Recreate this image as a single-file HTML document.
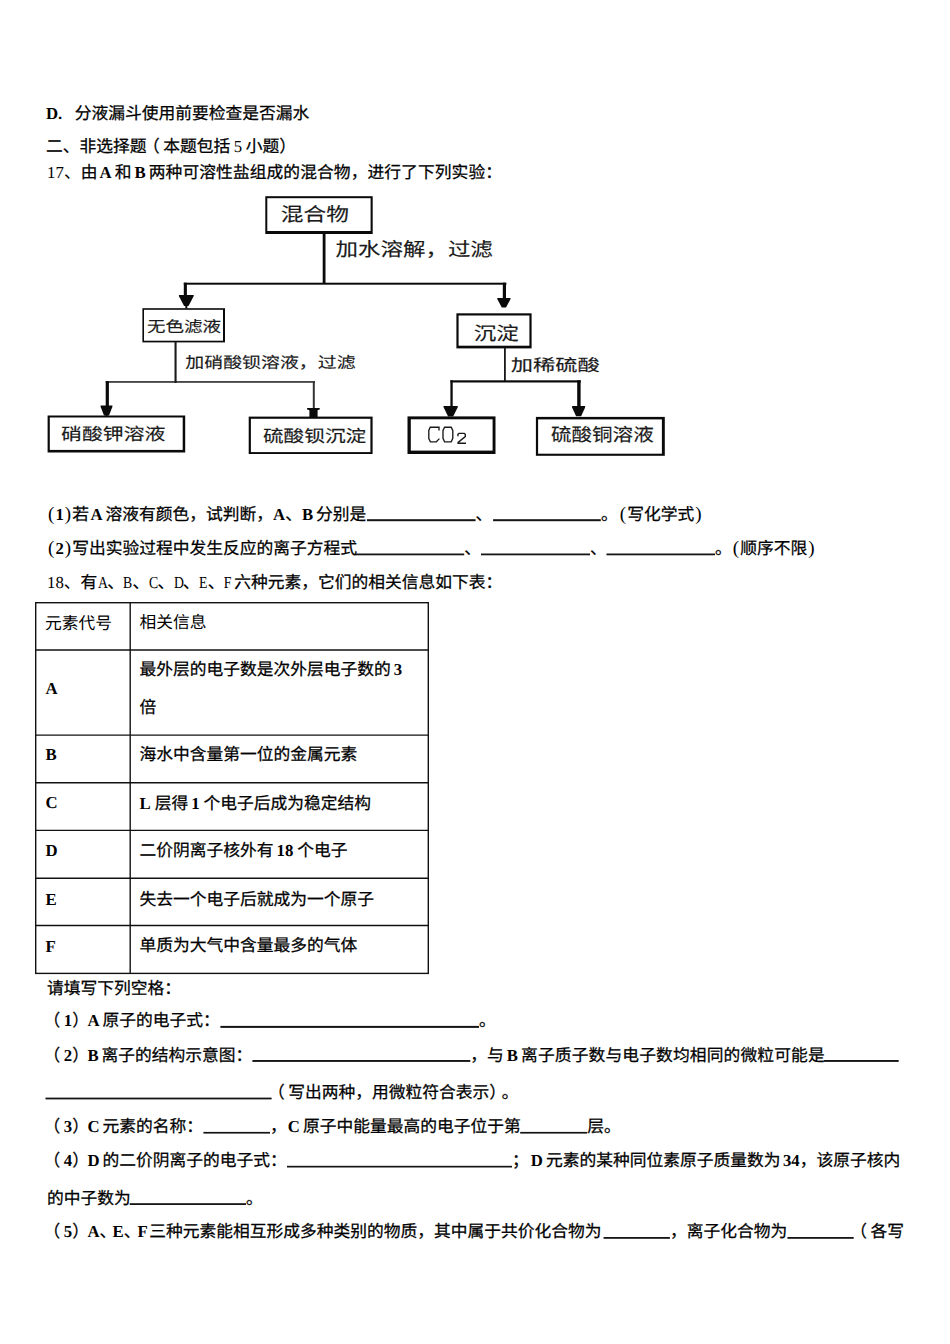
<!DOCTYPE html>
<html lang="zh-CN"><head><meta charset="utf-8">
<style>
html,body{margin:0;padding:0;background:#fff;}
body{width:950px;height:1344px;position:relative;overflow:hidden;font-family:"Liberation Serif",serif;color:#000;text-rendering:geometricPrecision;}
.t{position:absolute;white-space:nowrap;font-size:16.75px;line-height:16.75px;font-weight:normal;-webkit-text-stroke:0.25px #000;}
.r{-webkit-text-stroke:0;}
b{font-weight:bold;-webkit-text-stroke:0;}
.n{font-weight:normal;-webkit-text-stroke:0;}
.h{display:inline-block;width:8.375px;text-align:center;}
.pp{font-size:19px;line-height:16.75px;}
.hs{display:inline-block;width:8.375px;text-align:center;-webkit-text-stroke:0;}
.hs i{display:inline-block;font-style:normal;transform:scaleX(0.82);}
.lp{position:relative;left:-3.5px;}
.u{position:absolute;height:1.3px;background:#111;}
svg{position:absolute;left:0;top:0;}
.dg text{font-family:"Liberation Sans",sans-serif;fill:#1a1a1a;}
</style></head>
<body>
<div class="t" style="left:46px;top:105.6px;"><b>D</b><span style="display:inline-block;width:16.75px"><b>.</b></span>分液漏斗使用前要检查是否漏水</div>
<div class="t" style="left:46px;top:139.3px;">二、非选择题<span class="lp">（</span>本题包括<span class="n" style="margin:0 3.5px 0 3.5px">5</span>小题）</div>
<div class="t" style="left:47px;top:165px;letter-spacing:0.07px"><span class="r">17、</span>由<b style="margin:0 3px 0 2px">A</b>和<b style="margin:0 3px 0 3px">B</b>两种可溶性盐组成的混合物，进行了下列实验：</div>
<svg class="dg" width="950" height="480" viewBox="0 0 950 480">
<rect x="265.3" y="196.2" width="107.4" height="37.8" fill="#0a0a0a"/><rect x="267.3" y="198.2" width="103.3" height="32.8" fill="#fff"/>
<rect x="142.4" y="308.2" width="82.6" height="34.2" fill="#0a0a0a"/><rect x="144.0" y="309.8" width="79.0" height="30.9" fill="#fff"/>
<rect x="456.4" y="313.3" width="75.2" height="35.1" fill="#0a0a0a"/><rect x="458.6" y="315.5" width="70.8" height="30.2" fill="#fff"/>
<rect x="47.6" y="415.5" width="137.6" height="37.0" fill="#0a0a0a"/><rect x="49.8" y="417.5" width="132.9" height="32.4" fill="#fff"/>
<rect x="248.7" y="416.6" width="123.9" height="37.4" fill="#0a0a0a"/><rect x="250.9" y="418.8" width="119.5" height="33.3" fill="#fff"/>
<rect x="407.5" y="416.4" width="88.0" height="37.6" fill="#0a0a0a"/><rect x="410.8" y="419.3" width="81.8" height="31.3" fill="#fff"/>
<rect x="535.9" y="416.9" width="128.9" height="38.9" fill="#0a0a0a"/><rect x="538.1" y="419.4" width="123.8" height="34.3" fill="#fff"/>
<rect x="322.7" y="233" width="2.8" height="51.0" fill="#0a0a0a"/>
<rect x="183.8" y="282.7" width="322.6" height="2.0" fill="#0a0a0a"/>
<rect x="183.8" y="282.7" width="3.1" height="13.3" fill="#0a0a0a"/>
<polygon points="178.8,295 193.8,295 193.5,296.6 188.5,306 184.1,306 179.1,296.6" fill="#0a0a0a"/><rect x="185.3" y="305.5" width="2.0" height="3.0" fill="#0a0a0a"/>
<rect x="502.8" y="282.7" width="3.2" height="16.3" fill="#0a0a0a"/>
<polygon points="497.2,297.9 510.6,297.9 510.3,299.5 506.0,307.6 501.8,307.6 497.5,299.5" fill="#0a0a0a"/>
<rect x="174.5" y="342" width="2.1" height="41.0" fill="#1a1a1a"/>
<rect x="105.7" y="381.2" width="209.3" height="1.5" fill="#1a1a1a"/>
<rect x="105.7" y="381.2" width="3.2" height="24.8" fill="#0a0a0a"/>
<polygon points="100.5,405.6 112.5,405.6 112.2,407.2 109.0,415.4 104.0,415.4 100.8,407.2" fill="#0a0a0a"/><rect x="105.5" y="414.9" width="2.0" height="1.1" fill="#0a0a0a"/>
<rect x="312.8" y="381.2" width="2.0" height="27.3" fill="#333"/>
<polygon points="307.1,407.9 319.7,407.9 319.7,409.6 317.6,410.2 317.6,417.4 309.4,417.4 309.4,410.2 307.1,409.6" fill="#0a0a0a"/>
<rect x="504" y="348" width="1.8" height="33.0" fill="#1a1a1a"/>
<rect x="450.4" y="380.3" width="130.4" height="2.2" fill="#0a0a0a"/>
<rect x="450.4" y="380.3" width="2.3" height="26.7" fill="#0a0a0a"/>
<polygon points="443.4,406 457.9,406 457.6,407.6 453.1,416.4 448.1,416.4 443.7,407.6" fill="#0a0a0a"/>
<rect x="577.2" y="380.3" width="3.4" height="26.7" fill="#0a0a0a"/>
<polygon points="572.0,406.1 585.2,406.1 585.0,407.7 581.1,416.2 576.1,416.2 572.2,407.7" fill="#0a0a0a"/>
<text x="280.8" y="221.4" font-size="19.0" textLength="68.1" lengthAdjust="spacingAndGlyphs" stroke="#1a1a1a" stroke-width="0.15">混合物</text>
<text x="335.4" y="256.1" font-size="19.0" textLength="157.5" lengthAdjust="spacingAndGlyphs" stroke="#1a1a1a" stroke-width="0.15">加水溶解，过滤</text>
<text x="146.9" y="331.9" font-size="15.4" textLength="74.1" lengthAdjust="spacingAndGlyphs" stroke="#1a1a1a" stroke-width="0.15">无色滤液</text>
<text x="185.3" y="367.5" font-size="15.6" textLength="170.3" lengthAdjust="spacingAndGlyphs" stroke="#1a1a1a" stroke-width="0.15">加硝酸钡溶液，过滤</text>
<text x="473.8" y="339.6" font-size="18.7" textLength="45" lengthAdjust="spacingAndGlyphs" stroke="#1a1a1a" stroke-width="0.15">沉淀</text>
<text x="510.8" y="370.5" font-size="16.6" textLength="89" lengthAdjust="spacingAndGlyphs" stroke="#1a1a1a" stroke-width="0.15">加稀硫酸</text>
<text x="61.1" y="439.6" font-size="16.9" textLength="104.3" lengthAdjust="spacingAndGlyphs" stroke="#1a1a1a" stroke-width="0.15">硝酸钾溶液</text>
<text x="262.9" y="441.5" font-size="16.8" textLength="103.4" lengthAdjust="spacingAndGlyphs" stroke="#1a1a1a" stroke-width="0.15">硫酸钡沉淀</text>
<text x="551" y="441.2" font-size="18.0" textLength="102.7" lengthAdjust="spacingAndGlyphs" stroke="#1a1a1a" stroke-width="0.15">硫酸铜溶液</text>
<g fill="none" stroke="#1a1a1a" stroke-width="1.35"><path d="M439,430.6 L439,427.2 L430.2,427.2 L428.8,430.4 L428.8,438.5 L430.4,441.8 L436.3,441.8 L439.4,438.6"/><path d="M444.6,427.2 L451.2,427.2 L452.8,430.5 L452.8,438.4 L451.2,441.8 L444.6,441.8 L443,438.4 L443,430.5 Z"/><path d="M457.9,436.2 L457.9,434.4 L459,433.3 L464.2,433.3 L465.3,434.4 L465.3,436.6 L458.1,442.4 L458.1,443.2 L466,443.2"/></g>
</svg>
<div class="t" style="left:47px;top:506.5px;"><span class="h n pp">(</span><b>1</b><span class="h n pp">)</span>若<b style="margin:0 3px 0 1.5px">A</b>溶液有颜色，试判断，<b>A</b>、<b style="margin:0 3px 0 0px">B</b>分别是</div>
<div class="t" style="left:475.6px;top:506.5px;">、</div>
<div class="t" style="left:601px;top:506.5px;">。<span class="h n pp" style="margin-left:1px">(</span>写化学式<span class="h n pp">)</span></div>
<div class="t" style="left:47px;top:541px;"><span class="h n pp">(</span><b>2</b><span class="h n pp">)</span>写出实验过程中发生反应的离子方程式</div>
<div class="t" style="left:464.2px;top:541px;">、</div>
<div class="t" style="left:590px;top:541px;">、</div>
<div class="t" style="left:715px;top:541px;">。<span class="h n pp">(</span>顺序不限<span class="h n pp">)</span></div>
<div class="t" style="left:47px;top:575px;"><span class="r">18、</span>有<span class="hs"><i>A</i></span><span style="margin:0 -1.6px 0 1.6px">、</span><span class="hs"><i>B</i></span><span style="margin:0 -1.6px 0 1.6px">、</span><span class="hs"><i>C</i></span><span style="margin:0 -1.6px 0 1.6px">、</span><span class="hs"><i>D</i></span><span style="margin:0 -1.6px 0 1.6px">、</span><span class="hs"><i>E</i></span><span style="margin:0 -1.6px 0 1.6px">、</span><span class="hs"><i>F</i></span><span style="margin-left:3px"></span>六种元素，它们的相关信息如下表：</div>
<svg width="950" height="1000" viewBox="0 0 950 1000"><g stroke="#111" stroke-width="1.4" fill="none">
<rect x="35.7" y="602.7" width="392.6" height="370.7"/>
<line x1="130.2" y1="602.7" x2="130.2" y2="973.4"/>
<line x1="35.7" y1="650" x2="428.3" y2="650"/>
<line x1="35.7" y1="735.1" x2="428.3" y2="735.1"/>
<line x1="35.7" y1="782.8" x2="428.3" y2="782.8"/>
<line x1="35.7" y1="830.4" x2="428.3" y2="830.4"/>
<line x1="35.7" y1="878.3" x2="428.3" y2="878.3"/>
<line x1="35.7" y1="925.5" x2="428.3" y2="925.5"/>
</g></svg>
<div class="t r" style="left:45px;top:615.7px;">元素代号</div>
<div class="t r" style="left:139.5px;top:615.3px;">相关信息</div>
<div class="t" style="left:45.5px;top:681px;"><b>A</b></div>
<div class="t" style="left:139.5px;top:661.9px;">最外层的电子数是次外层电子数的<b style="margin:0 0px 0 3px">3</b></div>
<div class="t" style="left:139.5px;top:699.8px;">倍</div>
<div class="t" style="left:45.5px;top:747px;"><b>B</b></div>
<div class="t" style="left:139.5px;top:747.4px;">海水中含量第一位的金属元素</div>
<div class="t" style="left:45.5px;top:795px;"><b>C</b></div>
<div class="t" style="left:139.5px;top:795.9px;"><b style="margin:0 4px 0 0px">L</b>层得<b style="margin:0 4px 0 3px">1</b>个电子后成为稳定结构</div>
<div class="t" style="left:45.5px;top:842.5px;"><b>D</b></div>
<div class="t" style="left:139.5px;top:842.7px;">二价阴离子核外有<b style="margin:0 4px 0 3px">18</b>个电子</div>
<div class="t" style="left:45.5px;top:892px;"><b>E</b></div>
<div class="t" style="left:139.5px;top:891.8px;">失去一个电子后就成为一个原子</div>
<div class="t" style="left:45.5px;top:939px;"><b>F</b></div>
<div class="t" style="left:139.5px;top:938.3px;">单质为大气中含量最多的气体</div>
<div class="t" style="left:47px;top:981px;">请填写下列空格：</div>
<div class="t" style="left:47px;top:1012.6px;"><span class="lp">（</span><b>1</b><span style="margin-right:-1.5px">）</span><b style="margin:0 3px 0 0px">A</b>原子的电子式：</div>
<div class="t" style="left:479px;top:1012.6px;">。</div>
<div class="t" style="left:47px;top:1048px;"><span class="lp">（</span><b>2</b><span style="margin-right:-1.5px">）</span><b style="margin:0 3px 0 0px">B</b>离子的结构示意图：</div>
<div class="t" style="left:470.3px;top:1048px;">，与<b style="margin:0 3px 0 3px">B</b><span style="letter-spacing:0.13px">离子质子数与电子数均相同的微粒可能是</span></div>
<div class="t" style="left:271.6px;top:1085px;"><span class="lp">（</span>写出两种，用微粒符合表示）<span style="margin-left:4px">。</span></div>
<div class="t" style="left:47px;top:1118.8px;"><span class="lp">（</span><b>3</b><span style="margin-right:-1.5px">）</span><b style="margin:0 3px 0 0px">C</b>元素的名称：</div>
<div class="t" style="left:270px;top:1118.8px;">，<b style="margin:0 3px 0 1px">C</b>原子中能量最高的电子位于第</div>
<div class="t" style="left:587.2px;top:1118.8px;">层。</div>
<div class="t" style="left:47px;top:1153px;"><span class="lp">（</span><b>4</b><span style="margin-right:-1.5px">）</span><b style="margin:0 3px 0 0px">D</b>的二价阴离子的电子式：</div>
<div class="t" style="left:512px;top:1153px;">；<b style="margin:0 3px 0 2px">D</b>元素的某种同位素原子质量数为<b style="margin:0 0px 0 2.5px">34</b>，该原子核内</div>
<div class="t" style="left:47px;top:1191px;">的中子数为</div>
<div class="t" style="left:246px;top:1191px;">。</div>
<div class="t" style="left:47px;top:1223.5px;"><span class="lp">（</span><b>5</b><span style="margin-right:-1.5px">）</span><b>A</b><span style="margin-right:-3.85px">、</span><b>E</b><span style="margin-right:-2.85px">、</span><b style="margin:0 1.5px 0 0px">F</b>三种元素能相互形成多种类别的物质，其中属于共价化合物为</div>
<div class="t" style="left:669.9px;top:1223.5px;">，离子化合物为</div>
<div class="t" style="left:853.7px;top:1223.5px;"><span class="lp">（</span>各写</div>
<svg width="950" height="1344" viewBox="0 0 950 1344"><g fill="#151515"><rect x="367" y="519.2" width="108.6" height="2"/><rect x="493.1" y="519.2" width="107.7" height="2"/><rect x="355" y="553.5" width="109.2" height="1.8"/><rect x="481" y="553.5" width="109.0" height="1.8"/><rect x="606.5" y="553.5" width="108.5" height="1.8"/><rect x="220.4" y="1025.9" width="258.6" height="2"/><rect x="252.4" y="1060" width="217.9" height="1.9"/><rect x="823.9" y="1060" width="74.8" height="1.9"/><rect x="45.5" y="1097.6" width="226.1" height="1.8"/><rect x="203.4" y="1131.9" width="66.6" height="1.7"/><rect x="520.2" y="1131.9" width="67.0" height="1.7"/><rect x="287" y="1165.8" width="225.0" height="1.7"/><rect x="129.7" y="1203.2" width="116.3" height="1.8"/><rect x="603.6" y="1237" width="66.3" height="1.8"/><rect x="787.4" y="1237" width="66.3" height="1.8"/></g></svg>
</body></html>
